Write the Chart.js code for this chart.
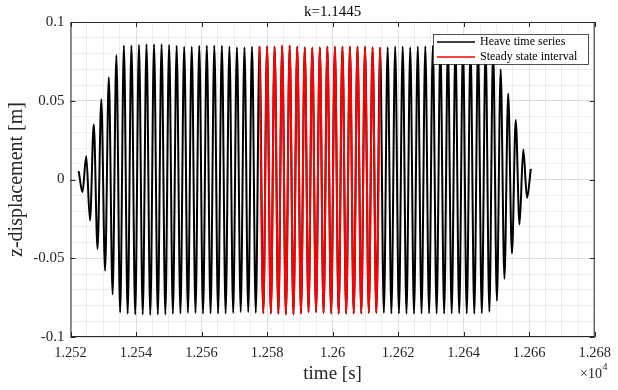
<!DOCTYPE html>
<html>
<head>
<meta charset="utf-8">
<script src="https://cdn.jsdelivr.net/npm/chart.js@4.4.1/dist/chart.umd.min.js"></script>
<style>
html, body { margin: 0; padding: 0; background: #fff; }
</style>
</head>
<body>
<canvas id="heaveChart" width="618" height="390"></canvas>
<script>
// time of every crest / trough of the heave signal [s]
const times = [
  12522.50, 12523.65, 12524.80, 12525.95, 12527.10, 12528.25, 12529.40, 12530.55, 12531.70, 12532.85,
  12534.00, 12535.15, 12536.30, 12537.45, 12538.60, 12539.75, 12540.90, 12542.05, 12543.20, 12544.35,
  12545.50, 12546.65, 12547.80, 12548.95, 12550.10, 12551.25, 12552.40, 12553.55, 12554.70, 12555.85,
  12557.00, 12558.15, 12559.30, 12560.45, 12561.60, 12562.75, 12563.90, 12565.05, 12566.20, 12567.35,
  12568.50, 12569.65, 12570.80, 12571.95, 12573.10, 12574.25, 12575.40, 12576.55, 12577.70, 12578.85,
  12580.00, 12581.15, 12582.30, 12583.45, 12584.60, 12585.75, 12586.90, 12588.05, 12589.20, 12590.35,
  12591.50, 12592.65, 12593.80, 12594.95, 12596.10, 12597.25, 12598.40, 12599.55, 12600.70, 12601.85,
  12603.00, 12604.15, 12605.30, 12606.45, 12607.60, 12608.75, 12609.90, 12611.05, 12612.20, 12613.35,
  12614.50, 12615.65, 12616.80, 12617.95, 12619.10, 12620.25, 12621.40, 12622.55, 12623.70, 12624.85,
  12626.00, 12627.15, 12628.30, 12629.45, 12630.60, 12631.75, 12632.90, 12634.05, 12635.20, 12636.35,
  12637.50, 12638.65, 12639.80, 12640.95, 12642.10, 12643.25, 12644.40, 12645.55, 12646.70, 12647.85,
  12649.00, 12650.15, 12651.30, 12652.45, 12653.60, 12654.75, 12655.90, 12657.05, 12658.20, 12659.35,
  12660.50
];

// z-displacement at those instants [m]
const heave = [
  0.0053, -0.0080, 0.0148, -0.0260, 0.0350, -0.0440, 0.0510, -0.0580, 0.0650, -0.0730,
  0.0790, -0.0845, 0.0851, -0.0853, 0.0851, -0.0857, 0.0855, -0.0857, 0.0859, -0.0861,
  0.0859, -0.0857, 0.0859, -0.0857, 0.0855, -0.0853, 0.0849, -0.0851, 0.0844, -0.0847,
  0.0844, -0.0847, 0.0849, -0.0851, 0.0851, -0.0851, 0.0851, -0.0851, 0.0849, -0.0851,
  0.0844, -0.0847, 0.0840, -0.0842, 0.0840, -0.0842, 0.0844, -0.0847, 0.0844, -0.0849,
  0.0846, -0.0851, 0.0844, -0.0853, 0.0851, -0.0857, 0.0851, -0.0857, 0.0844, -0.0851,
  0.0840, -0.0842, 0.0838, -0.0842, 0.0840, -0.0847, 0.0844, -0.0851, 0.0844, -0.0853,
  0.0844, -0.0853, 0.0844, -0.0851, 0.0844, -0.0851, 0.0844, -0.0847, 0.0840, -0.0847,
  0.0838, -0.0847, 0.0840, -0.0851, 0.0844, -0.0851, 0.0844, -0.0853, 0.0840, -0.0853,
  0.0844, -0.0851, 0.0846, -0.0849, 0.0849, -0.0851, 0.0846, -0.0853, 0.0844, -0.0851,
  0.0846, -0.0849, 0.0849, -0.0851, 0.0846, -0.0853, 0.0844, -0.0849, 0.0842, -0.0840,
  0.0830, -0.0770, 0.0700, -0.0630, 0.0546, -0.0470, 0.0377, -0.0286, 0.0190, -0.0116,
  0.0068
];

// steady state window [s]
const steadyStart = 12577.7;
const steadyEnd = 12614.5;

const xTicks = [12520, 12540, 12560, 12580, 12600, 12620, 12640, 12660, 12680];
const xTickLabels = ['1.252', '1.254', '1.256', '1.258', '1.26', '1.262', '1.264', '1.266', '1.268'];
const yTicks = [-0.1, -0.05, 0, 0.05, 0.1];
const yTickLabels = ['-0.1', '-0.05', '0', '0.05', '0.1'];

const serif = '"Liberation Serif", "DejaVu Serif", serif';
const axisColor = '#262626';
const majorGrid = 'rgba(38,38,38,0.15)';
const minorGrid = 'rgba(38,38,38,0.08)';

const heavePoints = times.map((t, i) => ({ x: t, y: heave[i] }));
const steadyPoints = heavePoints.filter(p => p.x >= steadyStart && p.x <= steadyEnd);

function findTick(list, v) {
  return list.findIndex(t => Math.abs(t - v) < 1e-9);
}

// frame, inner ticks, title, exponent and boxed legend like matlab
const matlabFrame = {
  id: 'matlabFrame',
  afterDraw(chart) {
    const { ctx, chartArea: a, scales } = chart;
    ctx.save();
    ctx.strokeStyle = axisColor;
    ctx.lineWidth = 1;
    ctx.strokeRect(a.left + 0.5, a.top + 0.5, a.right - a.left - 1, a.bottom - a.top - 1);

    ctx.beginPath();
    xTicks.forEach(v => {
      const px = Math.round(scales.x.getPixelForValue(v)) + 0.5;
      ctx.moveTo(px, a.bottom); ctx.lineTo(px, a.bottom - 5);
      ctx.moveTo(px, a.top); ctx.lineTo(px, a.top + 5);
    });
    yTicks.forEach(v => {
      const py = Math.round(scales.y.getPixelForValue(v)) + 0.5;
      ctx.moveTo(a.left, py); ctx.lineTo(a.left + 5, py);
      ctx.moveTo(a.right, py); ctx.lineTo(a.right - 5, py);
    });
    ctx.stroke();

    // title
    ctx.fillStyle = '#000';
    ctx.font = '15px ' + serif;
    ctx.textAlign = 'center';
    ctx.textBaseline = 'middle';
    ctx.fillText('k=1.1445', (a.left + a.right) / 2, 12);

    // x10^4
    ctx.fillStyle = axisColor;
    ctx.textAlign = 'left';
    ctx.textBaseline = 'alphabetic';
    ctx.font = '14px ' + serif;
    ctx.fillText('\u00d710', 580, 378);
    const w = ctx.measureText('\u00d710').width;
    ctx.font = '10px ' + serif;
    ctx.fillText('4', 580 + w + 0.5, 370);

    // legend
    const lx = 433, ly = 34, lw = 155, lh = 30;
    ctx.fillStyle = '#fff';
    ctx.fillRect(lx, ly, lw, lh);
    ctx.strokeStyle = axisColor;
    ctx.lineWidth = 0.8;
    ctx.strokeRect(lx + 0.5, ly + 0.5, lw, lh);
    ctx.font = '12px ' + serif;
    ctx.textBaseline = 'middle';
    chart.data.datasets.forEach((ds, i) => {
      const y = ly + 8 + i * 15;
      ctx.strokeStyle = ds.borderColor;
      ctx.lineWidth = 1.5;
      ctx.beginPath();
      ctx.moveTo(lx + 4, y); ctx.lineTo(lx + 42, y);
      ctx.stroke();
      ctx.fillStyle = '#000';
      ctx.fillText(ds.label, lx + 47, y);
    });
    ctx.restore();
  }
};

const chart = new Chart(document.getElementById('heaveChart'), {
  type: 'line',
  data: {
    datasets: [
      {
        label: 'Heave time series',
        data: heavePoints,
        borderColor: '#000000',
        borderWidth: 2,
        pointRadius: 0,
        cubicInterpolationMode: 'monotone',
        fill: false,
        order: 2
      },
      {
        label: 'Steady state interval',
        data: steadyPoints,
        borderColor: '#ff0000',
        borderWidth: 2,
        pointRadius: 0,
        cubicInterpolationMode: 'monotone',
        fill: false,
        order: 1
      }
    ]
  },
  options: {
    responsive: false,
    animation: false,
    layout: { padding: { top: 22, right: 18.5, bottom: 0, left: 0 } },
    scales: {
      x: {
        type: 'linear',
        min: 12520,
        max: 12680,
        afterFit: s => { s.height = 53; },
        afterBuildTicks: s => {
          const t = [];
          for (let v = 12520; v <= 12680; v += 5) t.push({ value: v });
          s.ticks = t;
        },
        grid: {
          drawTicks: false,
          color: c => findTick(xTicks, c.tick.value) >= 0 ? majorGrid : minorGrid,
          lineWidth: 1
        },
        border: { display: false },
        ticks: {
          autoSkip: false,
          maxRotation: 0,
          padding: 7,
          color: axisColor,
          font: { family: serif, size: 14.5 },
          callback: v => {
            const i = findTick(xTicks, v);
            return i >= 0 ? xTickLabels[i] : '';
          }
        },
        title: {
          display: true,
          text: 'time [s]',
          color: axisColor,
          font: { family: serif, size: 19 },
          padding: { top: 0, bottom: 5 }
        }
      },
      y: {
        min: -0.1,
        max: 0.1,
        afterFit: s => { s.width = 70.5; },
        afterBuildTicks: s => {
          const t = [];
          for (let k = -10; k <= 10; k++) t.push({ value: k / 100 });
          s.ticks = t;
        },
        grid: {
          drawTicks: false,
          color: c => findTick(yTicks, c.tick.value) >= 0 ? majorGrid : minorGrid,
          lineWidth: 1
        },
        border: { display: false },
        ticks: {
          autoSkip: false,
          padding: 6,
          color: axisColor,
          font: { family: serif, size: 15 },
          callback: v => {
            const i = findTick(yTicks, v);
            return i >= 0 ? yTickLabels[i] : '';
          }
        },
        title: {
          display: true,
          text: 'z-displacement [m]',
          color: axisColor,
          font: { family: serif, size: 20 },
          padding: { top: 5, bottom: 0 }
        }
      }
    },
    plugins: {
      legend: { display: false },
      title: { display: false },
      tooltip: { enabled: false }
    }
  },
  plugins: [matlabFrame]
});
</script>
</body>
</html>
